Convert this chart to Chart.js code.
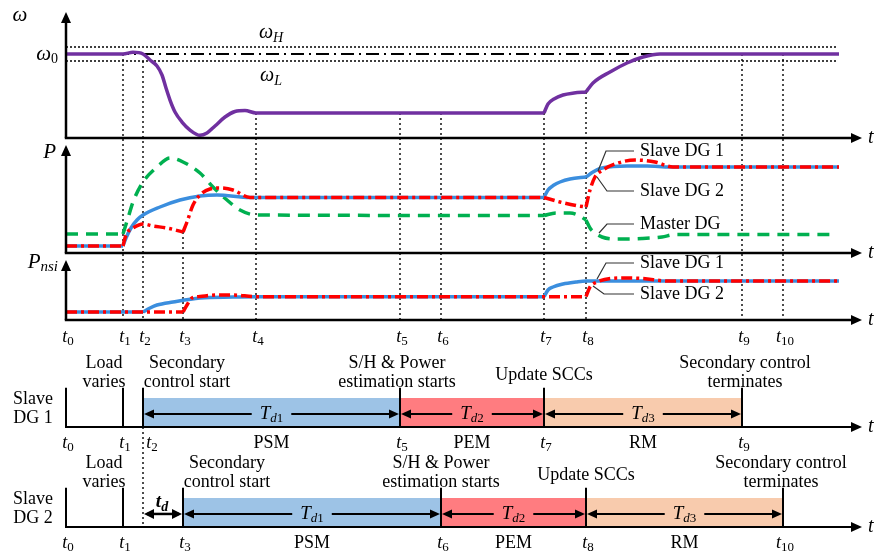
<!DOCTYPE html>
<html>
<head>
<meta charset="utf-8">
<script src="https://cdn.jsdelivr.net/npm/chart.js@4.4.1/dist/chart.umd.min.js"></script>
<style>
  body { margin: 0; background: #fff; }
  canvas { display: block; }
</style>
</head>
<body>
<canvas id="chart" width="875" height="556"></canvas>
<script>
const W = 875, H = 556;

// event instants t0 ... t10, measured from the t0 axis
const tMarks = [0, 57, 77, 117, 190, 334, 375, 478, 520, 676, 717];
const tAxisEnd = 796;

// frequency (w0 = 1)
const omegaRefs = [1.083, 1.0, 0.917]; // wH, w0, wL
const omegaSegs = [
    [[0, 1], [57, 1], [67, 1.02], [77, 1], [84, 0.929], [91, 0.857], [96, 0.75], [100, 0.595], [104, 0.452],
     [109, 0.31], [116, 0.19], [124, 0.095], [134, 0.032], [141, 0.06], [149, 0.143], [159, 0.25],
     [169, 0.315], [179, 0.327], [190, 0.298], [478, 0.298]],
    [[478, 0.298], [482, 0.405], [488, 0.464], [497, 0.512], [508, 0.536], [520, 0.548]],
    [[520, 0.548], [527, 0.655], [544, 0.786], [561, 0.893], [577, 0.964], [594, 1], [773, 1]],
];

// active power P
const pSlave1 = [
    [[0, 0.7], [57, 0.7]],
    [[57, 0.7], [60, 1.5], [65, 2.5], [71, 3.3], [77, 3.8], [94, 4.6], [114, 5.3], [134, 5.7], [151, 5.8], [184, 5.55], [478, 5.55]],
    [[478, 5.55], [482, 6.3], [488, 6.8], [494, 7.1], [504, 7.4], [520, 7.6]],
    [[520, 7.6], [527, 8.1], [534, 8.45], [547, 8.65], [561, 8.7], [581, 8.7], [604, 8.6], [773, 8.6]],
];
const pSlave2 = [
    [[0, 0.7], [57, 0.7]],
    [[57, 0.7], [59, 1.5], [61, 2.0], [67, 2.5], [77, 2.9], [87, 2.7], [101, 2.5], [117, 2.1]],
    [[117, 2.1], [121, 3.1], [127, 4.8], [134, 5.8], [144, 6.4], [154, 6.5], [167, 6.3], [184, 5.55], [478, 5.55]],
    [[478, 5.55], [494, 5.1], [510, 4.75], [520, 4.6]],
    [[520, 4.6], [524, 6.3], [529, 7.6], [537, 8.3], [549, 8.9], [569, 9.3], [589, 9.1], [607, 8.6], [773, 8.6]],
];
const pMaster = [
    [[0, 1.9], [57, 1.9]],
    [[57, 1.9], [62, 3.5], [67, 5.1], [77, 7.1], [91, 8.6], [104, 9.5], [117, 9.1], [134, 8.0], [147, 6.6],
     [161, 5.3], [174, 4.3], [190, 3.8], [478, 3.75]],
    [[478, 3.75], [490, 4.0], [504, 4.0], [514, 3.7], [520, 3.3]],
    [[520, 3.3], [524, 2.5], [529, 2.0], [536, 1.6], [549, 1.4], [576, 1.45], [596, 1.6], [609, 1.85], [766, 1.85]],
];

// Pnsi
const nSlave1 = [
    [[0, 0.8], [77, 0.8]],
    [[77, 0.8], [84, 1.2], [91, 1.5], [107, 1.8], [134, 2.2], [167, 2.3], [190, 2.33], [478, 2.33]],
    [[478, 2.33], [482, 3.0], [487, 3.3], [497, 3.6], [510, 3.8], [520, 3.9], [773, 3.9]],
];
const nSlave2 = [
    [[0, 0.8], [117, 0.8]],
    [[117, 0.8], [121, 1.5], [126, 2.2], [134, 2.35], [151, 2.5], [167, 2.5], [190, 2.33], [520, 2.33]],
    [[520, 2.33], [524, 3.3], [531, 3.8], [554, 4.2], [577, 4.15], [601, 3.9], [773, 3.9]],
];

// dotted guides: [t index, axis, value where it starts]
const guides = [[1, 'yW', 1.0], [2, 'yW', 0.917], [3, 'yP', 2.1], [4, 'yW', 0.298], [5, 'yW', 0.298],
    [6, 'yW', 0.298], [7, 'yW', 0.298], [8, 'yW', 0.548], [9, 'yW', 1.0], [10, 'yW', 1.0]];

// curve name tags
const legendP = [
    { text: 'Slave DG 1', pts: [[532, 8.2], [540, 10.2], [568, 10.2]] },
    { text: 'Slave DG 2', pts: [[531, 7.6], [541, 6.2], [568, 6.2]] },
    { text: 'Master DG', pts: [[533, 2.0], [541, 2.9], [568, 2.9]] },
];
const legendN = [
    { text: 'Slave DG 1', pts: [[531, 4.1], [540, 5.7], [568, 5.7]] },
    { text: 'Slave DG 2', pts: [[527, 3.4], [538, 2.6], [568, 2.6]] },
];

// timelines
const phaseNames = ['PSM', 'PEM', 'RM'];
const phaseColors = ['#9DC3E6', '#FF7C80', '#F8CBAD'];
const row1Phases = [[2, 5], [5, 7], [7, 9]];
const row2Phases = [[3, 6], [6, 8], [8, 10]];
const row1Markers = [0, 1, 2, 5, 7, 9];
const row2Markers = [0, 1, 3, 6, 8, 10];
const tdSpan = [2, 3];
const row1Events = [
    { k: 1, dx: -19, lines: ['Load', 'varies'] },
    { k: 2, dx: 44, lines: ['Secondary', 'control start'] },
    { k: 5, dx: -3, lines: ['S/H & Power', 'estimation starts'] },
    { k: 7, dx: 0, lines: ['Update SCCs'] },
    { k: 9, dx: 3, lines: ['Secondary control', 'terminates'] },
];
const row2Events = [
    { k: 1, dx: -19, lines: ['Load', 'varies'] },
    { k: 3, dx: 44, lines: ['Secondary', 'control start'] },
    { k: 6, dx: 0, lines: ['S/H & Power', 'estimation starts'] },
    { k: 8, dx: 0, lines: ['Update SCCs'] },
    { k: 10, dx: -2, lines: ['Secondary control', 'terminates'] },
];
const boxTop = 1, markTop = 1.35, arrowLevel = 0.45;

const rows = [
    { axis: 'g1', phases: row1Phases, markers: row1Markers, events: row1Events, name: 'DG 1', shift: { 2: 7 } },
    { axis: 'g2', phases: row2Phases, markers: row2Markers, events: row2Events, name: 'DG 2', shift: {} },
];

const C_PURPLE = '#7030A0', C_BLUE = '#3B8EDE', C_RED = '#FF0000', C_GREEN = '#00B050';
const SERIF = '"Liberation Serif", "Times New Roman", serif';
const font = (style, size) => style + ' ' + size + 'px ' + SERIF;

// one y scale per band, zero at zeroPx, unitPx pixels per unit
function band(zeroPx, unitPx) {
    const min = -(H - zeroPx) / unitPx;
    return { type: 'linear', display: false, bounds: 'data', min: min, max: min + H / unitPx };
}

const datasets = [];
function curve(segs, axis, style) {
    segs.forEach((seg) => {
        datasets.push(Object.assign({
            data: seg.map((p) => ({ x: p[0], y: p[1] })),
            yAxisID: axis,
            pointRadius: 0,
            fill: false,
            cubicInterpolationMode: 'monotone',
            borderJoinStyle: 'round',
        }, style));
    });
}

// boxes of the three modes
rows.forEach((r) => {
    r.phases.forEach((ph, i) => {
        datasets.push({
            data: [{ x: tMarks[ph[0]], y: boxTop }, { x: tMarks[ph[1]], y: boxTop }],
            yAxisID: r.axis, pointRadius: 0, borderWidth: 0, borderColor: 'rgba(0,0,0,0)',
            backgroundColor: phaseColors[i], fill: { value: 0 }, order: 30,
        });
    });
    const d = [];
    r.markers.forEach((k) => {
        d.push({ x: tMarks[k], y: 0 }, { x: tMarks[k], y: markTop }, { x: tMarks[k], y: null });
    });
    datasets.push({ data: d, yAxisID: r.axis, pointRadius: 0, borderColor: '#000', borderWidth: 2, order: 10 });
});

// reference levels wH, w0, wL
omegaRefs.forEach((v, i) => {
    datasets.push({
        data: [{ x: 0, y: v }, { x: 772, y: v }],
        yAxisID: 'yW', pointRadius: 0, borderColor: '#000',
        borderWidth: i === 1 ? 1.8 : 1.5,
        borderDash: i === 1 ? [13, 5, 2, 5] : [2, 2],
        order: 20,
    });
});

curve(omegaSegs, 'yW', { borderColor: C_PURPLE, borderWidth: 3.5, order: 3 });
curve(pMaster, 'yP', { borderColor: C_GREEN, borderWidth: 3.5, borderDash: [12, 8], order: 5 });
curve(pSlave1, 'yP', { borderColor: C_BLUE, borderWidth: 3.5, order: 4 });
curve(pSlave2, 'yP', { borderColor: C_RED, borderWidth: 3.5, borderDash: [11, 4, 3, 4], order: 3 });
curve(nSlave1, 'yN', { borderColor: C_BLUE, borderWidth: 3.5, order: 4 });
curve(nSlave2, 'yN', { borderColor: C_RED, borderWidth: 3.5, borderDash: [11, 4, 3, 4], order: 3 });

// drawing helpers
function measure(ctx, parts) {
    let w = 0;
    parts.forEach((p) => { ctx.font = p[1]; w += ctx.measureText(p[0]).width; });
    return w;
}
function runs(ctx, parts, x, y, align) {
    const w = measure(ctx, parts);
    let cx = align === 'center' ? x - w / 2 : (align === 'right' ? x - w : x);
    ctx.textAlign = 'left';
    ctx.textBaseline = 'middle';
    parts.forEach((p) => {
        ctx.font = p[1];
        ctx.fillText(p[0], cx, y + (p[2] || 0));
        cx += ctx.measureText(p[0]).width;
    });
    return w;
}
const tSym = (k) => [['t', font('italic', 18)], [String(k), font('normal', 13), 5]];
const txt = (s) => [[s, font('normal', 18)]];

function line(ctx, pts) {
    ctx.beginPath();
    pts.forEach((p, i) => (i ? ctx.lineTo(p[0], p[1]) : ctx.moveTo(p[0], p[1])));
    ctx.stroke();
}
function head(ctx, x, y, ang, len, half) {
    ctx.save();
    ctx.translate(x, y);
    ctx.rotate(ang);
    ctx.beginPath();
    ctx.moveTo(0, 0);
    ctx.lineTo(-len, -half);
    ctx.lineTo(-len, half);
    ctx.closePath();
    ctx.fill();
    ctx.restore();
}

const sketch = {
    id: 'sketch',
    beforeDatasetsDraw(chart) {
        const { ctx, scales } = chart;
        const x = scales.x;
        ctx.save();
        ctx.strokeStyle = '#000';
        ctx.lineWidth = 1.4;
        ctx.setLineDash([2, 3]);
        const bottom = scales.yN.getPixelForValue(0);
        guides.forEach((g) => {
            const px = x.getPixelForValue(tMarks[g[0]]);
            line(ctx, [[px, scales[g[1]].getPixelForValue(g[2])], [px, bottom]]);
        });
        const p2 = x.getPixelForValue(tMarks[tdSpan[0]]);
        line(ctx, [[p2, scales.g1.getPixelForValue(0)], [p2, scales.g2.getPixelForValue(0)]]);
        ctx.restore();
    },
    afterDatasetsDraw(chart) {
        const { ctx, scales } = chart;
        const x = scales.x;
        const x0 = x.getPixelForValue(0);
        const xEnd = x.getPixelForValue(tAxisEnd);
        ctx.save();
        ctx.fillStyle = '#000';
        ctx.strokeStyle = '#000';

        // panel axes
        [['yW', 1.5], ['yP', 10.8], ['yN', 6.0]].forEach(([id, top]) => {
            const s = scales[id];
            const y0 = s.getPixelForValue(0), yTop = s.getPixelForValue(top);
            ctx.lineWidth = 2.5;
            line(ctx, [[x0, y0], [x0, yTop + 8]]);
            head(ctx, x0, yTop, -Math.PI / 2, 11, 5);
            line(ctx, [[x0 - 1.2, y0], [xEnd - 8, y0]]);
            head(ctx, xEnd, y0, 0, 11, 5);
            runs(ctx, [['t', font('italic', 20)]], xEnd + 6, y0, 'left');
        });

        // axis names
        runs(ctx, [['ω', font('italic', 21)]], x0 - 46, scales.yW.getPixelForValue(1.5) + 3, 'center');
        runs(ctx, [['ω', font('italic', 21)], ['0', font('normal', 14), 5]], x0 - 8, scales.yW.getPixelForValue(1.0), 'right');
        runs(ctx, [['ω', font('italic', 20)], ['H', font('italic', 14), 5]], x.getPixelForValue(205), scales.yW.getPixelForValue(1.25), 'center');
        runs(ctx, [['ω', font('italic', 20)], ['L', font('italic', 14), 5]], x.getPixelForValue(205), scales.yW.getPixelForValue(0.74), 'center');
        runs(ctx, [['P', font('italic', 21)]], x0 - 10, scales.yP.getPixelForValue(10.1), 'right');
        runs(ctx, [['P', font('italic', 21)], ['nsi', font('italic', 15), 5]], x0 - 8, scales.yN.getPixelForValue(5.8), 'right');

        // t0 ... t10 under the Pnsi panel
        const yTick = scales.yN.getPixelForValue(0) + 17;
        tMarks.forEach((t, k) => runs(ctx, tSym(k), x.getPixelForValue(t) + 2, yTick, 'center'));

        // curve tags
        ctx.lineWidth = 1.2;
        ctx.strokeStyle = '#333';
        [['yP', legendP], ['yN', legendN]].forEach(([id, list]) => {
            list.forEach((lg) => {
                const pts = lg.pts.map((p) => [x.getPixelForValue(p[0]), scales[id].getPixelForValue(p[1])]);
                line(ctx, pts);
                const last = pts[pts.length - 1];
                runs(ctx, txt(lg.text), last[0] + 6, last[1], 'left');
            });
        });
        ctx.strokeStyle = '#000';

        // timelines
        rows.forEach((r) => {
            const s = scales[r.axis];
            const b = s.getPixelForValue(0);
            ctx.lineWidth = 2;
            line(ctx, [[x0 - 1, b], [xEnd - 8, b]]);
            head(ctx, xEnd, b, 0, 11, 5);
            runs(ctx, [['t', font('italic', 20)]], xEnd + 6, b, 'left');

            runs(ctx, txt('Slave'), x0 - 33, b - 28, 'center');
            runs(ctx, txt(r.name), x0 - 33, b - 9, 'center');

            r.events.forEach((ev) => {
                const cx = x.getPixelForValue(tMarks[ev.k]) + ev.dx;
                if (ev.lines.length === 2) {
                    runs(ctx, txt(ev.lines[0]), cx, b - 64, 'center');
                    runs(ctx, txt(ev.lines[1]), cx, b - 45, 'center');
                } else {
                    runs(ctx, txt(ev.lines[0]), cx, b - 52, 'center');
                }
            });

            r.markers.forEach((k) => {
                runs(ctx, tSym(k), x.getPixelForValue(tMarks[k]) + 2 + (r.shift[k] || 0), b + 16, 'center');
            });

            const ya = s.getPixelForValue(arrowLevel);
            r.phases.forEach((ph, i) => {
                const xa = x.getPixelForValue(tMarks[ph[0]]);
                const xb = x.getPixelForValue(tMarks[ph[1]]);
                const cx = (xa + xb) / 2;
                runs(ctx, txt(phaseNames[i]), cx, b + 16, 'center');
                const lab = [['T', font('italic', 19)], ['d', font('italic', 13), 5], [String(i + 1), font('normal', 13), 5]];
                const w = measure(ctx, lab);
                runs(ctx, lab, cx, ya, 'center');
                ctx.lineWidth = 2;
                line(ctx, [[xa + 4, ya], [cx - w / 2 - 8, ya]]);
                line(ctx, [[cx + w / 2 + 8, ya], [xb - 4, ya]]);
                head(ctx, xa + 1, ya, Math.PI, 10, 4.5);
                head(ctx, xb - 1, ya, 0, 10, 4.5);
            });
        });

        // delay t_d on the second timeline
        const s2 = scales.g2;
        const yd = s2.getPixelForValue(arrowLevel);
        const xa = x.getPixelForValue(tMarks[tdSpan[0]]);
        const xb = x.getPixelForValue(tMarks[tdSpan[1]]);
        ctx.lineWidth = 2.5;
        line(ctx, [[xa + 4, yd], [xb - 4, yd]]);
        head(ctx, xa + 1, yd, Math.PI, 10, 5);
        head(ctx, xb - 1, yd, 0, 10, 5);
        runs(ctx, [['t', font('bold italic', 19)], ['d', font('bold italic', 14), 5]], (xa + xb) / 2 - 1, yd - 12, 'center');

        ctx.restore();
    },
};

new Chart(document.getElementById('chart').getContext('2d'), {
    type: 'line',
    data: { datasets: datasets },
    options: {
        responsive: false,
        animation: false,
        events: [],
        layout: { padding: 0 },
        plugins: { legend: { display: false }, tooltip: { enabled: false }, title: { display: false } },
        scales: {
            x: { type: 'linear', display: false, bounds: 'data', min: -66, max: W - 66 },
            yW: band(138, 84),
            yP: band(253, 10),
            yN: band(320, 10),
            g1: band(427, 29),
            g2: band(527, 29),
        },
    },
    plugins: [sketch],
});
</script>
</body>
</html>
